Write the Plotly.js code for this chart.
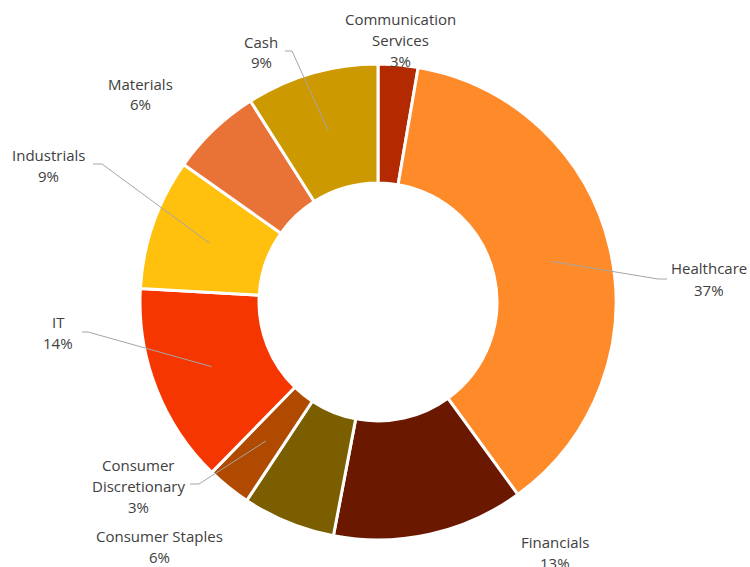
<!DOCTYPE html>
<html>
<head>
<meta charset="utf-8">
<script src="https://cdn.plot.ly/plotly-3.0.1.min.js"></script>
<style>html,body{margin:0;padding:0;background:#fff;}#chart{width:750px;height:567px;}</style>
</head>
<body>
<div id="chart"></div>
<script>
// ---- Data ----
const categories = ["Communication Services", "Healthcare", "Financials", "Consumer Staples",
  "Consumer Discretionary", "IT", "Industrials", "Materials", "Cash"];
const weights = [2.7, 37.3, 13.0, 6.3, 3.0, 13.6, 8.9, 6.2, 9.0];
const labelLines = [["Communication", "Services"], ["Healthcare"], ["Financials"], ["Consumer Staples"],
  ["Consumer", "Discretionary"], ["IT"], ["Industrials"], ["Materials"], ["Cash"]];

// ---- Styles / layout ----
const colors = ["#B32A00", "#FF8A2A", "#6B1800", "#7A5E00", "#B04A00", "#F53600", "#FFC00E", "#E97236", "#CC9900"];
const W = 750, H = 567;
const CX = 378, CY = 302, R = 238, HOLE = 0.5;
// label block centres (pixels) and optional leader elbow/end points (pixels)
const labelPlace = [
  {x: 401, y: 40, lead: null},
  {x: 709, y: 279, lead: [[658, 279], [667, 279]]},
  {x: 555, y: 552, lead: null},
  {x: 159, y: 546, lead: null},
  {x: 138, y: 486, lead: [[199, 484], [190, 484]]},
  {x: 58, y: 332, lead: [[88, 332], [82, 332]]},
  {x: 49, y: 165, lead: [[102, 164], [93, 164]]},
  {x: 140, y: 94, lead: null},
  {x: 261, y: 52, lead: [[292, 51], [285, 51]]}
];
const LINE_H = 21;
const fontFamily = "Open Sans, Lato, sans-serif";
const textColor = "#404040";

const total = weights.reduce((a, b) => a + b, 0);
const px2x = p => p / W;
const px2y = p => 1 - p / H;

const annotations = [];
const shapes = [];
let cum = 0;
weights.forEach((v, i) => {
  const mid = (cum + v / 2) / total * 2 * Math.PI; // clockwise from 12 o'clock
  cum += v;
  const rMid = R * (1 + HOLE) / 2;
  const tx = CX + rMid * Math.sin(mid);
  const ty = CY - rMid * Math.cos(mid);
  const pct = Math.round(v / total * 100) + "%";
  const lines = labelLines[i].concat([pct]);
  const pl = labelPlace[i];
  lines.forEach((t, k) => {
    const yy = pl.y + (k - (lines.length - 1) / 2) * LINE_H;
    annotations.push({
      xref: "paper", yref: "paper", x: px2x(pl.x), y: px2y(yy),
      xanchor: "center", yanchor: "middle", showarrow: false,
      text: t, font: {family: fontFamily, size: 15, color: textColor}
    });
  });
  if (pl.lead) {
    let d = "M" + px2x(tx) + "," + px2y(ty);
    pl.lead.forEach(p => { d += " L" + px2x(p[0]) + "," + px2y(p[1]); });
    shapes.push({type: "path", xref: "paper", yref: "paper", path: d,
      line: {color: "#A6A6A6", width: 1}});
  }
});

const trace = {
  type: "pie",
  labels: categories,
  values: weights,
  sort: false,
  direction: "clockwise",
  rotation: 0,
  hole: HOLE,
  textinfo: "none",
  hoverinfo: "label+percent",
  marker: {colors: colors, line: {color: "#ffffff", width: 3}},
  domain: {x: [(CX - R) / W, (CX + R) / W], y: [1 - (CY + R) / H, 1 - (CY - R) / H]},
  showlegend: false
};

const layout = {
  width: W, height: H,
  margin: {l: 0, r: 0, t: 0, b: 0},
  paper_bgcolor: "#ffffff",
  showlegend: false,
  annotations: annotations,
  shapes: shapes
};

Plotly.newPlot("chart", [trace], layout, {displayModeBar: false, staticPlot: true});
</script>
</body>
</html>
